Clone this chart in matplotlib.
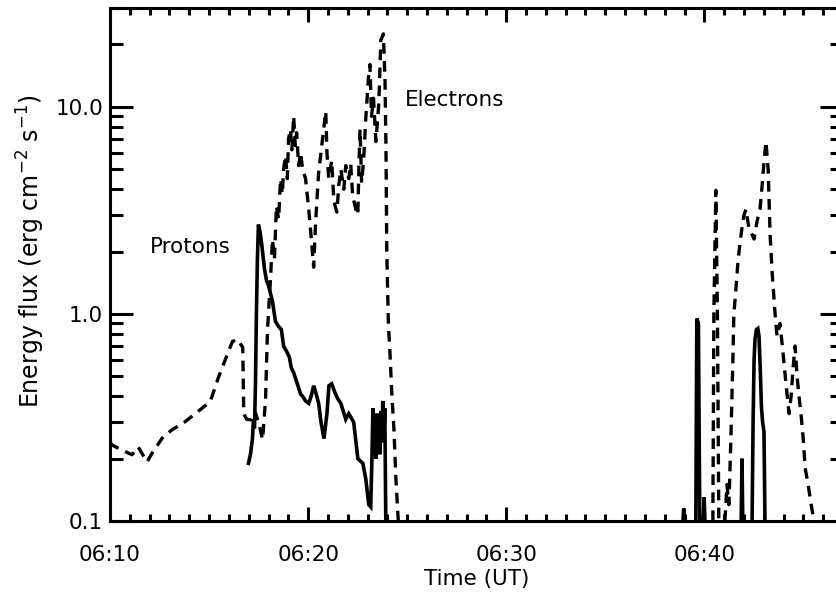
import matplotlib
matplotlib.use("Agg")
import matplotlib.pyplot as plt
import numpy as np
from matplotlib.ticker import FuncFormatter, LogLocator, MultipleLocator, NullFormatter

nan = np.nan

# time in minutes after 06:00 UT, flux in erg cm^-2 s^-1 (nan splits the bursts)
ELECTRON_TIME = [
    10.00, 10.10, 10.60, 11.11, 11.42, 11.87, 12.13, 12.68, 13.14, 13.80, 14.56, 15.06,
    15.47, 15.82, 16.18, 16.43, 16.70, 16.75, 16.90, 17.09, 17.30, 17.50, 17.70, 17.85,
    17.95, 18.10, 18.20, 18.30, 18.40, 18.51, 18.61, 18.70, 18.76, 18.86, 18.95, 19.01,
    19.11, 19.18, 19.27, 19.35, 19.42, 19.52, 19.62, 19.72, 19.87, 20.03, 20.18, 20.28,
    20.38, 20.53, 20.73, 20.89, 20.95, 21.04, 21.19, 21.30, 21.45, 21.55, 21.65, 21.80,
    21.90, 22.05, 22.15, 22.25, 22.41, 22.51, 22.56, 22.62, 22.70, 22.80, 22.91, 23.06,
    23.12, 23.20, 23.30, 23.42, 23.50, 23.57, 23.67, 23.80, 23.88, 23.93, 23.97, 24.05,
    24.13, 24.23, 24.33, 24.43, 24.55, nan,
    40.43, 40.48, 40.58, 40.66, 40.73, nan,
    41.04, 41.14, 41.24, 41.34, 41.44, 41.49, 41.59, 41.70, 41.80, 41.90, 42.00, 42.10,
    42.25, 42.51, 42.66, 42.81, 42.91, 43.01, 43.11, 43.22, 43.32, 43.42, 43.57, 43.67,
    43.82, 43.97, 44.13, 44.28, 44.38, 44.48, 44.58, 44.68, 44.78, 44.89, 44.99, 45.09,
    45.24, 45.39, 45.54,
]
ELECTRON_FLUX = [
    0.24, 0.233, 0.22, 0.209, 0.228, 0.193, 0.213, 0.255, 0.276, 0.302, 0.345, 0.377,
    0.493, 0.602, 0.736, 0.753, 0.69, 0.33, 0.31, 0.308, 0.34, 0.30, 0.247, 0.385,
    0.84, 1.47, 2.29, 1.84, 3.32, 2.87, 4.48, 3.79, 5.0, 5.8, 4.5, 7.0,
    7.8, 6.2, 9.0, 6.5, 7.5, 5.2, 6.0, 5.0, 4.5, 3.2, 2.2, 1.68,
    2.8, 4.8, 7.0, 9.5, 6.0, 4.5, 5.5, 3.5, 3.1, 4.2, 5.0, 4.0,
    5.2, 4.5, 5.3, 3.7, 3.2, 3.0, 5.0, 7.8, 4.3, 5.5, 8.8, 14.5,
    16.0, 9.0, 11.0, 6.8, 8.5, 10.5, 21.0, 22.5, 13.5, 6.3, 2.0, 0.9,
    0.65, 0.40, 0.28, 0.16, 0.10, nan,
    0.10, 1.0, 3.95, 1.0, 0.10, nan,
    0.10, 0.15, 0.12, 0.25, 0.6, 1.0, 1.3, 1.8, 2.2, 2.6, 3.0, 3.2,
    2.6, 2.3, 2.8, 3.2, 4.1, 5.4, 6.8, 5.0, 2.4, 1.6, 1.0, 0.78,
    0.9, 0.65, 0.45, 0.33, 0.40, 0.55, 0.70, 0.50, 0.40, 0.32, 0.25, 0.18,
    0.15, 0.12, 0.10,
]

PROTON_TIME = [
    16.99, 17.09, 17.19, 17.24, 17.29, 17.34, 17.39, 17.44, 17.49, 17.57, 17.65, 17.80,
    17.90, 18.00, 18.20, 18.35, 18.51, 18.65, 18.76, 18.91, 19.05, 19.15, 19.27, 19.42,
    19.52, 19.62, 19.72, 19.87, 20.03, 20.15, 20.28, 20.38, 20.53, 20.65, 20.80, 20.95,
    21.05, 21.19, 21.34, 21.49, 21.65, 21.90, 22.05, 22.30, 22.51, 22.76, 22.91, 23.06,
    23.16, 23.22, 23.27, 23.32, 23.37, 23.42, 23.47, 23.52, 23.57, 23.62, 23.67, 23.72,
    23.77, 23.82, 23.87, 23.92, nan,
    38.92, 38.96, 39.00, nan,
    39.57, 39.62, 39.70, 39.77, nan,
    39.95, 39.99, 40.03, nan,
    41.86, 41.90, 41.94, nan,
    42.41, 42.46, 42.51, 42.56, 42.63, 42.70, 42.76, 42.82, 42.88, 42.94, 43.01, 43.06,
]
PROTON_FLUX = [
    0.19, 0.21, 0.25, 0.31, 0.28, 0.45, 1.0, 1.84, 2.7, 2.5, 2.2, 1.64,
    1.45, 1.37, 1.15, 0.92, 0.87, 0.84, 0.70, 0.66, 0.62, 0.55, 0.52, 0.47,
    0.44, 0.41, 0.40, 0.38, 0.37, 0.40, 0.45, 0.42, 0.37, 0.30, 0.25, 0.33,
    0.45, 0.46, 0.42, 0.39, 0.37, 0.31, 0.33, 0.30, 0.20, 0.19, 0.16, 0.12,
    0.117, 0.20, 0.35, 0.21, 0.30, 0.20, 0.33, 0.22, 0.30, 0.21, 0.34, 0.24,
    0.38, 0.25, 0.35, 0.10, nan,
    0.10, 0.115, 0.10, nan,
    0.10, 0.95, 0.90, 0.10, nan,
    0.10, 0.13, 0.10, nan,
    0.10, 0.20, 0.10, nan,
    0.10, 0.30, 0.60, 0.76, 0.84, 0.85, 0.78, 0.55, 0.36, 0.30, 0.27, 0.10,
]

X_RANGE = (10, 47)
Y_RANGE = (0.1, 30)
LABELS = [("Protons", 12.0, 2.1), ("Electrons", 24.9, 10.8)]


def main():
    plt.rcParams["font.family"] = "DejaVu Sans"
    plt.rcParams["mathtext.fontset"] = "dejavusans"

    fig = plt.figure(figsize=(8.36, 5.92), dpi=100)
    ax = fig.add_axes([0.1316, 0.1199, 0.8768, 0.8666])

    ax.plot(PROTON_TIME, PROTON_FLUX, color="black", lw=2.6, solid_joinstyle="miter")
    ax.plot(ELECTRON_TIME, ELECTRON_FLUX, color="black", lw=2.4, linestyle=(0, (3.2, 2.2)))

    ax.set_yscale("log")
    ax.set_xlim(*X_RANGE)
    ax.set_ylim(*Y_RANGE)

    ax.xaxis.set_major_locator(MultipleLocator(10))
    ax.xaxis.set_minor_locator(MultipleLocator(1))
    ax.xaxis.set_major_formatter(FuncFormatter(lambda m, _: f"06:{int(round(m)):02d}"))
    ax.yaxis.set_major_locator(LogLocator(base=10))
    ax.yaxis.set_minor_locator(LogLocator(base=10, subs=np.arange(2, 10)))
    ax.yaxis.set_major_formatter(FuncFormatter(lambda v, _: f"{v:.1f}"))
    ax.yaxis.set_minor_formatter(NullFormatter())

    ax.tick_params(which="both", direction="in", top=True, right=True, width=2.2, labelsize=15.5)
    ax.tick_params(axis="x", which="major", length=10, pad=17)
    ax.tick_params(axis="x", which="minor", length=5)
    ax.tick_params(axis="y", which="major", length=16.6, pad=5)
    ax.tick_params(axis="y", which="minor", length=9.4)

    for spine in ax.spines.values():
        spine.set_linewidth(2.2)

    ax.set_xlabel("Time (UT)", fontsize=15.5, labelpad=3)
    ax.set_ylabel(r"Energy flux (erg cm$^{-2}$ s$^{-1}$)", fontsize=17)
    ax.yaxis.set_label_coords(-0.086, 0.526)

    for text, t, v in LABELS:
        ax.text(t, v, text, fontsize=15.5, ha="left", va="center")

    fig.savefig("out.png", dpi=100)
    plt.close(fig)


if __name__ == "__main__":
    main()
